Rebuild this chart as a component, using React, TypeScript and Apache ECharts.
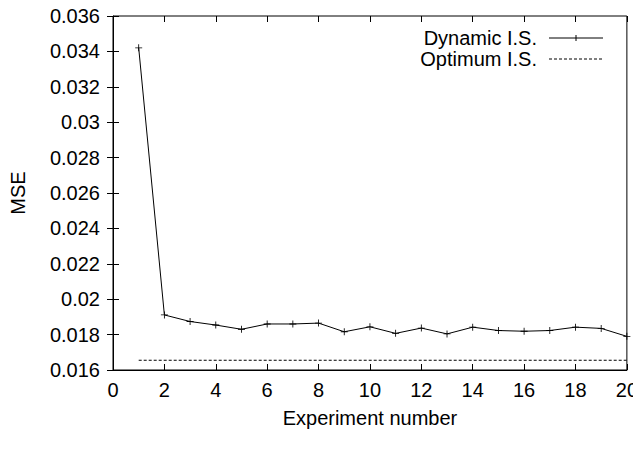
import React, { useEffect, useRef } from "react";
import * as echarts from "echarts";

const experiments = [1, 2, 3, 4, 5, 6, 7, 8, 9, 10, 11, 12, 13, 14, 15, 16, 17, 18, 19, 20];
const dynamicMSE = [
  0.0342, 0.01911, 0.01874, 0.01854, 0.0183, 0.0186, 0.0186, 0.01865, 0.01816, 0.01844,
  0.01807, 0.01837, 0.01804, 0.01842, 0.01823, 0.01819, 0.01823, 0.01842, 0.01835, 0.0179,
];
const optimumMSE = 0.01655;
const optimumRange = [1, 20];
const legendNames = ["Dynamic I.S.", "Optimum I.S."];

const FONT = "'Liberation Sans', Arial, Helvetica, sans-serif";
const FS = 20;
const PLUS = "path://M-0.12,-1H0.12V-0.12H1V0.12H0.12V1H-0.12V0.12H-1V-0.12H-0.12Z";

export default function App() {
  const ref = useRef<HTMLDivElement>(null);
  useEffect(() => {
    const chart = echarts.init(ref.current!, null, { renderer: "svg" });
    const tickStyle = { show: true, inside: true, length: 6, lineStyle: { color: "#000", width: 1 } };
    const txt = { fontFamily: FONT, fontSize: FS, color: "#000" };
    chart.setOption({
      animation: false,
      backgroundColor: "#fff",
      textStyle: { fontFamily: FONT },
      grid: {
        left: 113,
        right: 13,
        top: 16,
        bottom: 90,
        show: true,
        borderColor: "#000",
        borderWidth: 1,
        containLabel: false,
      },
      graphic: [
        {
          type: "text",
          x: 537,
          y: 38,
          style: { text: legendNames[0], font: `${FS}px ${FONT}`, fill: "#000", align: "right", verticalAlign: "middle" },
        },
        {
          type: "line",
          shape: { x1: 549, y1: 38, x2: 603, y2: 38 },
          style: { stroke: "#000", lineWidth: 1 },
        },
        {
          type: "line",
          shape: { x1: 576, y1: 35, x2: 576, y2: 41 },
          style: { stroke: "#000", lineWidth: 1 },
        },
        {
          type: "text",
          x: 537,
          y: 59,
          style: { text: legendNames[1], font: `${FS}px ${FONT}`, fill: "#000", align: "right", verticalAlign: "middle" },
        },
        {
          type: "line",
          shape: { x1: 549, y1: 59, x2: 603, y2: 59 },
          style: { stroke: "#000", lineWidth: 1, lineDash: [3, 2] },
        },
      ],
      xAxis: [
        {
          type: "value",
          min: 0,
          max: 20,
          interval: 2,
          name: "Experiment number",
          nameLocation: "middle",
          nameGap: 38,
          nameTextStyle: txt,
          axisLine: { show: true, lineStyle: { color: "#000", width: 1 } },
          axisTick: tickStyle,
          axisLabel: { ...txt, margin: 10 },
          splitLine: { show: false },
        },
        {
          type: "value",
          position: "top",
          min: 0,
          max: 20,
          interval: 2,
          axisLine: { show: false },
          axisTick: tickStyle,
          axisLabel: { show: false },
          splitLine: { show: false },
        },
      ],
      yAxis: [
        {
          type: "value",
          min: 0.016,
          max: 0.036,
          interval: 0.002,
          name: "MSE",
          nameLocation: "middle",
          nameGap: 85,
          nameTextStyle: txt,
          axisLine: { show: true, lineStyle: { color: "#000", width: 1 } },
          axisTick: tickStyle,
          axisLabel: {
            ...txt,
            margin: 13,
            formatter: (v: number) => String(parseFloat(v.toFixed(4))),
          },
          splitLine: { show: false },
        },
        {
          type: "value",
          position: "right",
          min: 0.016,
          max: 0.036,
          interval: 0.002,
          axisLine: { show: false },
          axisTick: tickStyle,
          axisLabel: { show: false },
          splitLine: { show: false },
        },
      ],
      series: [
        {
          name: legendNames[0],
          type: "line",
          data: experiments.map((x, i) => [x, dynamicMSE[i]]),
          symbol: PLUS,
          symbolSize: 7,
          showSymbol: true,
          itemStyle: { color: "#000" },
          lineStyle: { color: "#000", width: 1 },
        },
        {
          name: legendNames[1],
          type: "line",
          data: optimumRange.map((x) => [x, optimumMSE]),
          symbol: "none",
          itemStyle: { color: "#000" },
          lineStyle: { color: "#000", width: 1, type: [3, 2] },
        },
      ],
    });
    return () => chart.dispose();
  }, []);
  return <div ref={ref} style={{ width: 641, height: 460, margin: -8 }} />;
}
